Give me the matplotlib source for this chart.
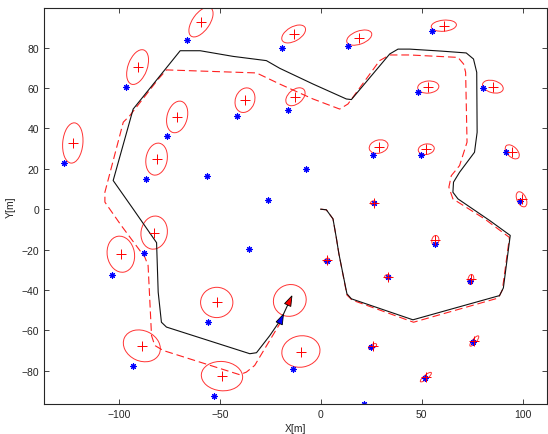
"""
EKF-SLAM result: true / estimated path, landmarks and covariance ellipses
"""
import numpy as np
import matplotlib.pyplot as plt
from matplotlib.patches import Ellipse, Polygon

# true landmarks (blue *)
true_lm_x = [-127.2, -96.5, -66.0, -76.2, -86.3, -56.1, -41.4, -25.9, -19.3, 13.4,
             55.0, -16.0, 48.4, 80.5, 25.7, 49.5, 91.7, -7.3, 98.9, 26.2,
             -87.5, -103.5, -35.5, -55.6, -92.9, -52.8, 3.0, 56.6, 33.2, 73.9,
             25.1, 75.7, 51.6, -13.7, 21.6]
true_lm_y = [22.7, 60.5, 83.7, 36.3, 15.1, 16.5, 46.2, 4.5, 79.8, 80.6,
             88.4, 49.0, 58.1, 59.9, 26.9, 26.7, 28.2, 19.8, 4.3, 3.3,
             -21.5, -32.4, -19.5, -56.1, -77.9, -92.4, -25.7, -17.2, -33.4, -35.7,
             -68.5, -65.9, -83.4, -79.2, -96.4]

# estimated landmarks (red +) and their covariance ellipses
est_lm_x = [-122.8, -90.7, -59.3, -71.1, -81.3, -37.5, -13.4, 19.1, 61.0, -12.5,
            53.3, 85.3, 28.7, 52.3, 94.9, 99.5, 26.2, -82.5, -99.0, -51.5,
            -88.6, -48.9, 3.1, 56.8, 33.2, 74.4, -9.8, 25.7, 76.1, 52.1]
est_lm_y = [32.8, 70.4, 92.7, 45.7, 24.8, 54.0, 86.8, 85.0, 90.9, 55.7,
            60.5, 60.7, 31.0, 29.7, 28.4, 4.9, 3.1, -11.6, -22.3, -46.2,
            -67.7, -82.7, -25.4, -15.5, -33.4, -34.8, -70.5, -68.0, -65.3, -83.2]
ell_major = [20, 18, 17, 16, 16, 12.5, 13, 13, 12.5, 11,
             10.5, 10.5, 9.5, 8, 8.5, 8, 3, 16.5, 18, 16,
             19, 20.5, 3, 5, 3, 5, 19, 4.5, 6.5, 7]
ell_minor = [10, 9.5, 8.5, 10, 10.5, 9.5, 7, 6.5, 5.5, 7,
             6, 6, 6.5, 5.2, 5, 4.5, 2, 13, 13.5, 15,
             15, 14.5, 2, 3.5, 2, 2.8, 15.5, 2, 2, 2]
ell_angle = [85, 70, 55, 75, 80, 70, 30, 20, 5, 40,
             5, -15, 15, 10, -45, -65, 0, 80, -80, 0,
             -25, -5, 30, 80, 0, 80, 10, 30, 50, 40]

# true vehicle path (black)
true_path_x = [0, 2.8, 6.1, 7.7, 9.0, 13.0, 15.2, 45.7, 88.6, 90.5, 93.9, 83.7, 68.0, 65.5,
               65.8, 68.8, 76.2, 77.5, 77.3, 75.7, 72.1, 60.0, 44.1, 38.3, 34.2, 15.2,
               12.7, -3.8, -20.3, -26.9, -43.4, -59.7, -69.6, -92.9, -102.8, -92.9,
               -81.3, -80.5, -78.9, -76.4, -35.1, -31.8, -25.2, -19.5, -15.3]
true_path_y = [0, -0.3, -4.8, -13.9, -22.0, -41.9, -44.4, -54.8, -42.8, -39.0, -13.0, -5.6, 5.1, 8.4,
               13.4, 18.3, 28.2, 38.1, 67.8, 74.4, 77.4, 78.3, 79.3, 79.3, 76.9, 54.3,
               54.6, 62.0, 69.8, 73.6, 75.7, 78.5, 78.5, 49.6, 14.2, 0.1,
               -16.6, -41.1, -56.0, -58.4, -71.6, -71.1, -62.6, -54.3, -45.2]

# estimated vehicle path (red dashed)
est_path_x = [0, 2.8, 6.1, 7.7, 9.0, 13.0, 15.5, 46.0, 88.0, 90.0, 93.5, 81.2, 65.5, 63.5,
              64.7, 68.8, 72.5, 71.8, 70.8, 68.0, 44.1, 34.2, 29.2, 13.5, 9.4, -3.8,
              -20.3, -31.8, -76.4, -80.4, -94.6, -97.8, -106.9, -106.9, -98.8, -87.1,
              -85.5, -83.8, -82.2, -78.0, -40.1, -36.8, -32.7, -20.3]
est_path_y = [0, -0.3, -4.8, -13.9, -22.0, -42.5, -45.0, -56.0, -44.0, -40.0, -14.0, -4.8, 5.1, 10.9,
              16.6, 21.6, 33.2, 67.8, 71.9, 75.2, 76.4, 76.4, 73.6, 52.1, 49.6, 54.6,
              62.0, 67.5, 69.0, 64.5, 46.3, 43.1, 8.4, 3.5, -8.1, -23.8,
              -27.9, -62.6, -67.5, -70.0, -82.0, -80.7, -77.4, -56.8]

# vehicle poses: x, y, heading [deg]
true_pose = [-19.5, -54.3, 65]
est_pose = [-15.3, -45.2, 65]
est_pose_ell = [16.5, 15.5, 30]


def vehicle_triangle(pose, length=5.0, width=3.4):
    x, y, a = pose
    a = np.deg2rad(a)
    pts = np.array([[length / 2, 0], [-length / 2, width / 2], [-length / 2, -width / 2]])
    rot = np.array([[np.cos(a), -np.sin(a)], [np.sin(a), np.cos(a)]])
    return pts @ rot.T + [x, y]


plt.rcParams["font.family"] = ["Liberation Sans", "DejaVu Sans"]
fig = plt.figure(figsize=(5.48, 4.35), dpi=100)
ax = fig.add_axes([0.0803, 0.069, 0.9177, 0.910])

# paths
ax.plot(est_path_x, est_path_y, "--", color="#ff2020", lw=0.8, dashes=(7, 3.5))
ax.plot(true_path_x, true_path_y, "-", color="#111111", lw=0.8)

# landmarks
ax.plot(true_lm_x, true_lm_y, linestyle="none", marker=(8, 2, 0), color="blue",
        markersize=4.5, markeredgewidth=0.8)
ax.plot(est_lm_x, est_lm_y, linestyle="none", marker="+", color="red",
        markersize=7, markeredgewidth=0.7)

# covariance ellipses
for x, y, w, h, ang in zip(est_lm_x, est_lm_y, ell_major, ell_minor, ell_angle):
    ax.add_patch(Ellipse((x, y), w, h, angle=ang, fill=False, edgecolor="#ff3333", lw=0.7))
ax.add_patch(Ellipse((est_pose[0], est_pose[1]), est_pose_ell[0], est_pose_ell[1],
                     angle=est_pose_ell[2], fill=False, edgecolor="#ff3333", lw=0.7))

# vehicles
ax.add_patch(Polygon(vehicle_triangle(true_pose), closed=True, facecolor="blue",
                     edgecolor="black", lw=0.6, zorder=5))
ax.add_patch(Polygon(vehicle_triangle(est_pose), closed=True, facecolor="red",
                     edgecolor="black", lw=0.6, zorder=5))

ax.set_aspect("equal")
ax.set_xlim(-137, 112)
ax.set_ylim(-96.5, 99.6)
ax.set_xticks([-100, -50, 0, 50, 100])
ax.set_yticks([-80, -60, -40, -20, 0, 20, 40, 60, 80])
ax.tick_params(direction="in", length=3.5, width=0.6, labelsize=7.5,
               top=True, right=True, colors="#262626")
for sp in ax.spines.values():
    sp.set_linewidth(0.8)
    sp.set_color("#262626")
ax.set_xlabel("X[m]", fontsize=7.5, color="#262626", labelpad=3)
ax.set_ylabel("Y[m]", fontsize=7.5, color="#262626", labelpad=4)

fig.savefig("out.png", dpi=100)
